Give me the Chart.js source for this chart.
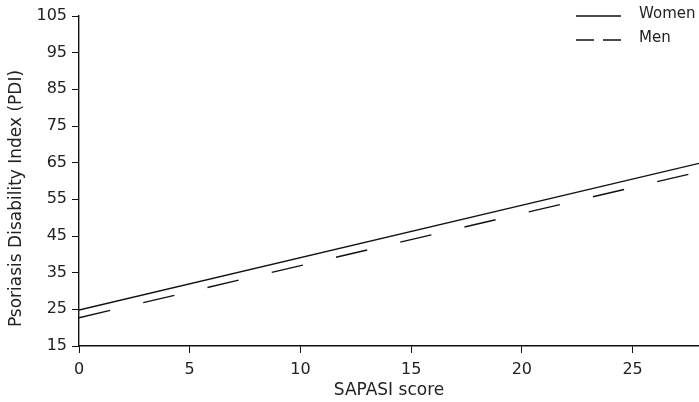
<!DOCTYPE html>
<html>
<head>
<meta charset="utf-8">
<script src="https://cdn.jsdelivr.net/npm/chart.js@4"></script>
<style>
  html, body { margin: 0; padding: 0; background: #fff; }
  #wrap { width: 699px; height: 402px; }
</style>
</head>
<body>
<div id="wrap"><canvas id="chart" width="699" height="402"></canvas></div>
<script>
// ===== data =====
const sapasi = [0, 28];
const women = [24.8, 64.8];
const men = [22.7, 62.5];
const seriesNames = ["Women", "Men"];
const xTitle = "SAPASI score";
const yTitle = "Psoriasis Disability Index (PDI)";

const FONT = "DejaVu Sans";
Chart.defaults.font.family = FONT;
Chart.defaults.font.size = 16;
Chart.defaults.color = "#222";

const toPoints = (xs, ys) => xs.map((x, i) => ({ x, y: ys[i] }));

// legend in the top-right corner + the y title, which sits a bit below the axis middle
const extras = {
  id: "extras",
  afterDraw(chart) {
    const ctx = chart.ctx;
    ctx.save();
    ctx.strokeStyle = "#111";
    ctx.lineWidth = 1.4;
    ctx.font = "15px " + FONT;
    ctx.fillStyle = "#222";
    ctx.textBaseline = "middle";
    const rows = [
      { y: 16, dash: [], name: chart.data.datasets[0].label },
      { y: 40, dash: [18, 9], name: chart.data.datasets[1].label }
    ];
    rows.forEach(r => {
      ctx.setLineDash(r.dash);
      ctx.beginPath();
      ctx.moveTo(576, r.y);
      ctx.lineTo(621, r.y);
      ctx.stroke();
      ctx.fillText(r.name, 639, r.y - 2);
    });

    ctx.font = "17px " + FONT;
    ctx.textAlign = "center";
    ctx.translate(16.5, 198.5);
    ctx.rotate(-Math.PI / 2);
    ctx.fillText(yTitle, 0, 0);
    ctx.restore();
  }
};

new Chart(document.getElementById("chart"), {
  type: "line",
  data: {
    datasets: [
      {
        label: seriesNames[0],
        data: toPoints(sapasi, women),
        borderColor: "#111",
        borderWidth: 1.4,
        pointRadius: 0
      },
      {
        label: seriesNames[1],
        data: toPoints(sapasi, men),
        borderColor: "#111",
        borderWidth: 1.4,
        borderDash: [32, 34],
        pointRadius: 0
      }
    ]
  },
  options: {
    responsive: false,
    animation: false,
    layout: { padding: { top: 16, right: 0, left: 0, bottom: 0 } },
    plugins: { legend: { display: false }, tooltip: { enabled: false } },
    scales: {
      x: {
        type: "linear",
        min: 0,
        max: 28,
        afterFit: s => { s.height = 56; },
        ticks: { stepSize: 5, includeBounds: false, padding: 7, color: "#222" },
        grid: { drawOnChartArea: false, tickLength: 7, color: "#111" },
        border: { color: "#111", width: 1.4 },
        title: { display: true, text: xTitle, color: "#222", font: { size: 17 }, padding: { top: 2, bottom: 1 } }
      },
      y: {
        min: 15,
        max: 105,
        afterFit: s => { s.width = 79; },
        ticks: { stepSize: 10, padding: 5, color: "#222" },
        grid: { drawOnChartArea: false, tickLength: 7, color: "#111" },
        border: { color: "#111", width: 1.4 }
      }
    }
  },
  plugins: [extras]
});
</script>
</body>
</html>
